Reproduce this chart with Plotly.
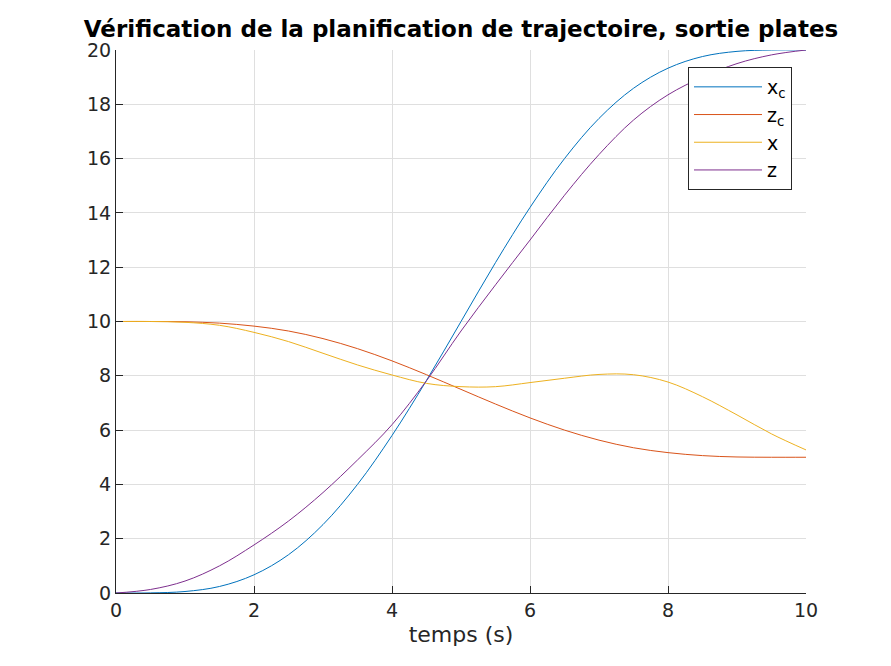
import plotly.graph_objects as go

t = [0, 0.5, 1, 1.5, 2, 2.5, 3, 3.5, 4, 4.5, 5, 5.5, 6, 6.5, 7, 7.5, 8, 8.5, 9, 9.5, 10]
x_c = [0, 0.004, 0.055, 0.24, 0.67, 1.41, 2.52, 4.0, 5.8, 7.83, 10.0, 12.17, 14.2, 16.0, 17.48, 18.59, 19.33, 19.76, 19.95, 20.0, 20.0]
z_c = [10, 10.0, 9.99, 9.94, 9.83, 9.65, 9.37, 9.0, 8.55, 8.04, 7.5, 6.96, 6.45, 6.0, 5.63, 5.35, 5.17, 5.06, 5.01, 5.0, 5.0]
x = [10, 10.0, 9.97, 9.86, 9.6, 9.26, 8.83, 8.4, 8.03, 7.72, 7.6, 7.6, 7.75, 7.91, 8.05, 8.04, 7.77, 7.23, 6.56, 5.86, 5.27]
z = [0, 0.13, 0.44, 1.0, 1.77, 2.65, 3.7, 4.9, 6.2, 7.82, 9.65, 11.35, 13.0, 14.65, 16.15, 17.42, 18.35, 19.0, 19.5, 19.82, 20.0]

names = ["x<sub>c</sub>", "z<sub>c</sub>", "x", "z"]
colors = ["#0072BD", "#D95319", "#EDB120", "#7E2F8E"]
series = [x_c, z_c, x, z]

FONT = "DejaVu Sans"
fig = go.Figure()
for name, col, ys in zip(names, colors, series):
    fig.add_trace(go.Scatter(x=t, y=ys, mode="lines", name=name,
                             line=dict(color=col, width=1, shape="spline", smoothing=1.0)))

axis_common = dict(
    showgrid=True, gridcolor="#dfdfdf", gridwidth=1,
    showline=True, linecolor="#262626", linewidth=1,
    ticks="inside", ticklen=7, tickcolor="#262626",
    tickfont=dict(family=FONT, size=19, color="#262626"),
    zeroline=False, mirror=False,
)
fig.update_xaxes(range=[0, 10], tickvals=[0, 2, 4, 6, 8, 10], **axis_common,
                 title=dict(text="temps (s)", font=dict(family=FONT, size=22, color="#262626"), standoff=6))
fig.update_yaxes(range=[0, 20], tickvals=list(range(0, 21, 2)), **axis_common)

fig.update_layout(
    width=891, height=666,
    margin=dict(l=108, r=93, t=42, b=81),
    paper_bgcolor="white", plot_bgcolor="white",
    title=dict(text="<b>Vérification de la planification de trajectoire, sortie plates</b>",
               x=0.5084, xanchor="center", y=0.969, yanchor="middle",
               font=dict(family=FONT, size=23, color="black")),
    legend=dict(x=0.829, y=0.9687, xanchor="left", yanchor="top",
                bgcolor="white", bordercolor="#262626", borderwidth=1,
                font=dict(family=FONT, size=19, color="black"),
                tracegroupgap=0, itemwidth=68),
    showlegend=True,
)
fig.write_html("out.html")
